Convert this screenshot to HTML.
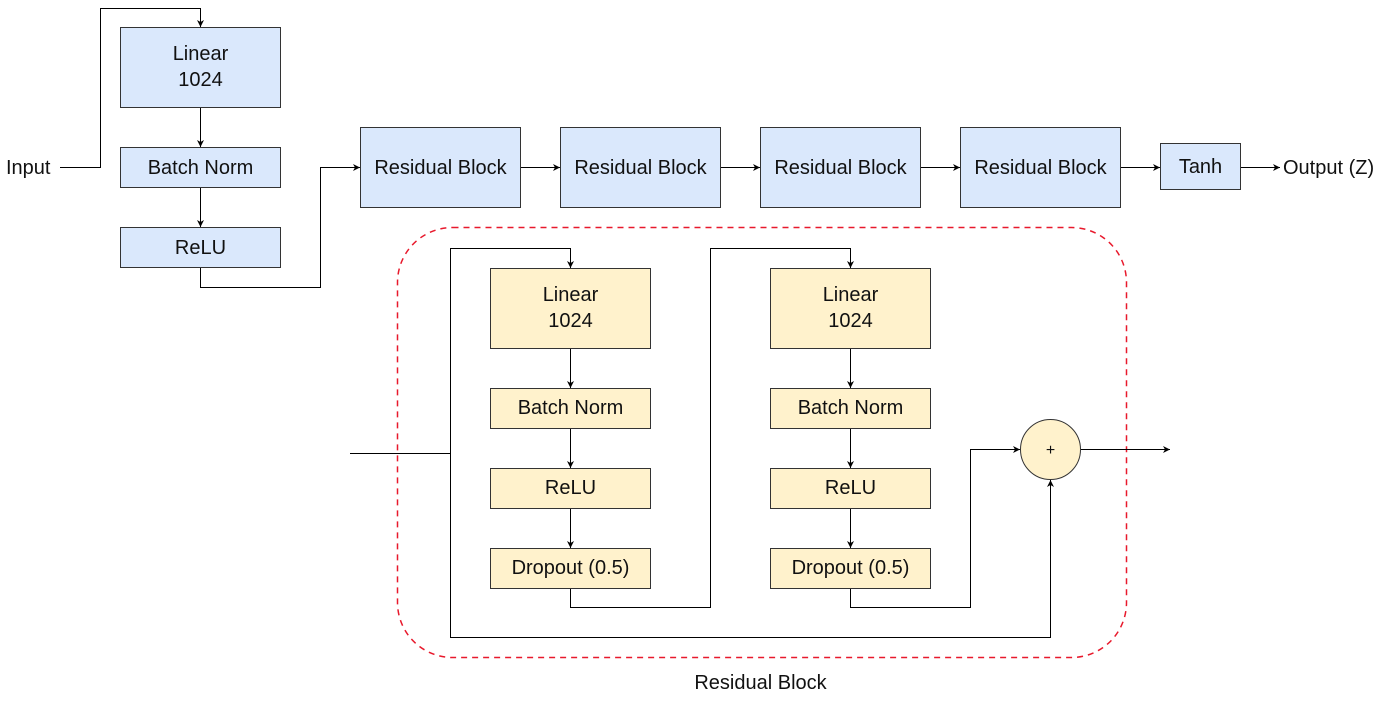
<!DOCTYPE html>
<html><head><style>body{margin:0;background:#fff}</style></head><body>
<svg width="1393" height="699" viewBox="0 0 1393 699" xmlns="http://www.w3.org/2000/svg" font-family="Liberation Sans, sans-serif" font-size="20">
<defs><marker id="a" markerWidth="8" markerHeight="8" refX="7" refY="4" orient="auto" markerUnits="userSpaceOnUse"><path d="M0,0.5 L7,4 L0,7.5 L2,4z" fill="#000"/></marker></defs>
<g stroke="#333" stroke-width="1" fill="#dae8fc">
<rect x="120.5" y="27.5" width="160" height="80"/>
<rect x="120.5" y="147.5" width="160" height="40"/>
<rect x="120.5" y="227.5" width="160" height="40"/>
<rect x="360.5" y="127.5" width="160" height="80"/>
<rect x="560.5" y="127.5" width="160" height="80"/>
<rect x="760.5" y="127.5" width="160" height="80"/>
<rect x="960.5" y="127.5" width="160" height="80"/>
<rect x="1160.5" y="143.5" width="80" height="46"/>
</g>
<g stroke="#333" stroke-width="1" fill="#fff2cc">
<rect x="490.5" y="268.5" width="160" height="80"/>
<rect x="490.5" y="388.5" width="160" height="40"/>
<rect x="490.5" y="468.5" width="160" height="40"/>
<rect x="490.5" y="548.5" width="160" height="40"/>
<rect x="770.5" y="268.5" width="160" height="80"/>
<rect x="770.5" y="388.5" width="160" height="40"/>
<rect x="770.5" y="468.5" width="160" height="40"/>
<rect x="770.5" y="548.5" width="160" height="40"/>
<circle cx="1050.5" cy="449.5" r="30"/>
</g>
<rect x="397.5" y="227.5" width="729" height="430" rx="55" fill="none" stroke="#e8192c" stroke-width="1.5" stroke-dasharray="6,5"/>
<g stroke="#000" stroke-width="1" fill="none">
<path d="M60,167.5 H100.5 V8.5 H200.5 V27" marker-end="url(#a)"/>
<path d="M200.5,108 V147" marker-end="url(#a)"/>
<path d="M200.5,188 V227" marker-end="url(#a)"/>
<path d="M200.5,268 V287.5 H320.5 V167.5 H360" marker-end="url(#a)"/>
<path d="M521,167.5 H560" marker-end="url(#a)"/>
<path d="M721,167.5 H760" marker-end="url(#a)"/>
<path d="M921,167.5 H960" marker-end="url(#a)"/>
<path d="M1121,167.5 H1160" marker-end="url(#a)"/>
<path d="M1241,167.5 H1280" marker-end="url(#a)"/>
<path d="M350,453.5 H450.5 V248.5 H570.5 V268" marker-end="url(#a)"/>
<path d="M450.5,453.5 V637.5 H1050.5 V480" marker-end="url(#a)"/>
<path d="M570.5,349 V388" marker-end="url(#a)"/>
<path d="M570.5,429 V468" marker-end="url(#a)"/>
<path d="M570.5,509 V548" marker-end="url(#a)"/>
<path d="M570.5,589 V607.5 H710.5 V248.5 H850.5 V268" marker-end="url(#a)"/>
<path d="M850.5,349 V388" marker-end="url(#a)"/>
<path d="M850.5,429 V468" marker-end="url(#a)"/>
<path d="M850.5,509 V548" marker-end="url(#a)"/>
<path d="M850.5,589 V607.5 H970.5 V449.5 H1020" marker-end="url(#a)"/>
<path d="M1081,449.5 H1170" marker-end="url(#a)"/>
</g>
<g fill="#111" text-anchor="middle">
<text x="200.5" y="60">Linear</text><text x="200.5" y="86">1024</text>
<text x="200.5" y="174">Batch Norm</text>
<text x="200.5" y="254">ReLU</text>
<text x="440.5" y="174">Residual Block</text>
<text x="640.5" y="174">Residual Block</text>
<text x="840.5" y="174">Residual Block</text>
<text x="1040.5" y="174">Residual Block</text>
<text x="1200.5" y="173">Tanh</text>
<text x="570.5" y="301">Linear</text><text x="570.5" y="327">1024</text>
<text x="570.5" y="414">Batch Norm</text>
<text x="570.5" y="494">ReLU</text>
<text x="570.5" y="574">Dropout (0.5)</text>
<text x="850.5" y="301">Linear</text><text x="850.5" y="327">1024</text>
<text x="850.5" y="414">Batch Norm</text>
<text x="850.5" y="494">ReLU</text>
<text x="850.5" y="574">Dropout (0.5)</text>
<text x="1050.5" y="455" font-size="16">+</text>
<text x="760.5" y="689">Residual Block</text>
</g>
<text x="6" y="174" fill="#111">Input</text>
<text x="1283" y="174" fill="#111">Output (Z)</text>
</svg>
</body></html>
